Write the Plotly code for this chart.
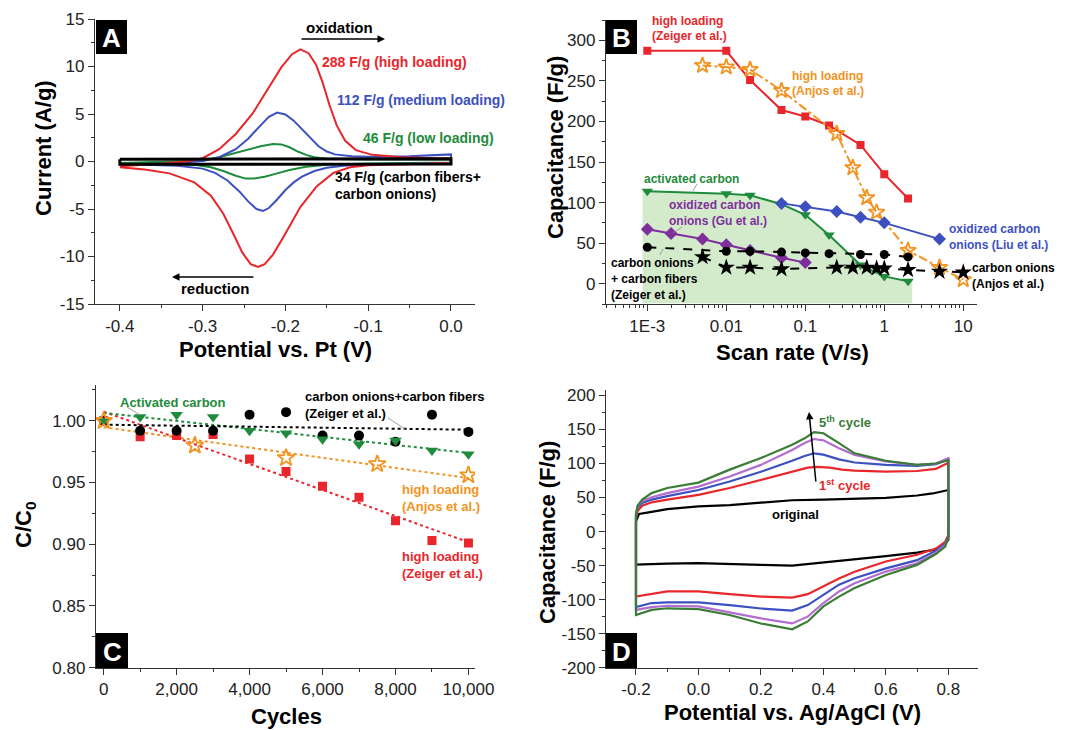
import plotly.graph_objects as go
import numpy as np

# The page body adds an 8 px margin, so the figure is drawn 8 px smaller and
# every reference pixel position is shifted by that offset.
OFF = 8
W, H = 1072 - OFF, 730 - OFF
def fx(p): return (p - OFF) / W
def fy(p): return 1 - (p - OFF) / H

FONT = "Arial, Liberation Sans, Helvetica, sans-serif"
RED = "#e8262b"; BLUE = "#3d50c0"; GREEN = "#1e8c3c"; ORANGE = "#f39321"
PURPLE = "#7e2f9c"; PURPLE_D = "#b46ccf"; BLACK = "#000000"; FILLG = "#d3ebcb"; GREEN_D = "#3a7d35"

# ---------------- Panel A data (CV, Potential vs Pt) ----------------
a_red_up_x = [-0.40, -0.36, -0.32, -0.30, -0.28, -0.26, -0.24, -0.22, -0.205, -0.192, -0.182, -0.172, -0.163, -0.155, -0.147, -0.138, -0.128, -0.115, -0.095, -0.06, -0.03, 0.0]
a_red_up_y = [-0.5, -0.3, 0.0, 0.35, 1.3, 2.9, 5.0, 7.8, 9.9, 11.3, 11.8, 11.4, 10.2, 8.3, 6.0, 3.8, 2.2, 1.2, 0.7, 0.45, 0.35, 0.3]
a_red_dn_x = [0.0, -0.05, -0.1, -0.122, -0.142, -0.162, -0.182, -0.202, -0.215, -0.225, -0.233, -0.242, -0.252, -0.263, -0.275, -0.29, -0.31, -0.34, -0.37, -0.40]
a_red_dn_y = [-0.15, -0.25, -0.4, -0.6, -1.2, -2.6, -4.8, -7.9, -9.8, -10.8, -11.1, -10.8, -9.6, -7.6, -5.5, -3.6, -2.2, -1.25, -0.85, -0.6]

a_blue_up_x = [-0.40, -0.33, -0.30, -0.28, -0.26, -0.245, -0.23, -0.22, -0.21, -0.2, -0.19, -0.18, -0.17, -0.16, -0.15, -0.14, -0.12, -0.1, -0.05, 0.0]
a_blue_up_y = [-0.35, -0.15, 0.05, 0.45, 1.3, 2.4, 3.8, 4.7, 5.15, 4.95, 4.3, 3.4, 2.4, 1.6, 1.05, 0.75, 0.55, 0.5, 0.55, 0.75]
a_blue_dn_x = [0.0, -0.05, -0.1, -0.13, -0.15, -0.165, -0.18, -0.19, -0.2, -0.21, -0.22, -0.227, -0.235, -0.245, -0.255, -0.27, -0.285, -0.3, -0.33, -0.37, -0.40]
a_blue_dn_y = [-0.15, -0.2, -0.3, -0.45, -0.65, -1.0, -1.6, -2.2, -3.0, -4.0, -4.9, -5.2, -5.0, -4.2, -3.2, -2.0, -1.2, -0.75, -0.45, -0.35, -0.35]

a_green_up_x = [-0.4, -0.3, -0.28, -0.26, -0.245, -0.23, -0.215, -0.205, -0.195, -0.185, -0.175, -0.165, -0.15, -0.1, 0.0]
a_green_up_y = [-0.15, 0.1, 0.45, 0.9, 1.25, 1.6, 1.85, 1.8, 1.5, 1.05, 0.7, 0.45, 0.3, 0.2, 0.2]
a_green_dn_x = [0.0, -0.1, -0.15, -0.175, -0.195, -0.21, -0.225, -0.238, -0.248, -0.26, -0.275, -0.29, -0.31, -0.35, -0.4]
a_green_dn_y = [-0.1, -0.2, -0.35, -0.55, -0.9, -1.25, -1.6, -1.8, -1.8, -1.5, -1.0, -0.6, -0.35, -0.2, -0.15]

a_black_x = [-0.4, 0.0, 0.0, -0.4, -0.4]
a_black_y = [0.25, 0.3, -0.25, -0.3, 0.25]

a_xticks = [-0.4, -0.3, -0.2, -0.1, 0.0]
a_xticktext = ["-0.4", "-0.3", "-0.2", "-0.1", "0.0"]
a_yticks = [-15, -10, -5, 0, 5, 10, 15]
a_yticktext = ["-15", "-10", "-5", "0", "5", "10", "15"]

# ---------------- Panel B data (Capacitance vs scan rate) ----------------
b_red_x = [0.001, 0.01, 0.02, 0.05, 0.1, 0.2, 0.5, 1, 2]
b_red_y = [287, 287, 251, 214, 206, 195, 171, 135, 105]
b_orange_x = [0.005, 0.01, 0.02, 0.05, 0.25, 0.4, 0.6, 0.8, 2, 5, 10]
b_orange_y = [269, 267, 264, 238, 185, 143, 106, 88, 41, 20, 5]
b_green_x = [0.001, 0.01, 0.02, 0.05, 0.1, 0.2, 0.5, 1, 2]
b_green_y = [114, 111, 109, 98, 85, 60, 23, 9, 3]
b_blue_x = [0.05, 0.1, 0.25, 0.5, 1, 5]
b_blue_y = [99, 95, 89, 82, 75, 55]
b_purple_x = [0.001, 0.002, 0.005, 0.01, 0.02, 0.05, 0.1]
b_purple_y = [67, 62, 55, 48, 41, 32, 26]
b_circ_x = [0.001, 0.01, 0.02, 0.05, 0.1, 0.2, 0.5, 1, 2]
b_circ_y = [45, 40, 40, 39, 38, 37, 36, 36, 33]
b_star_x = [0.005, 0.01, 0.02, 0.05, 0.25, 0.4, 0.6, 0.8, 1, 2, 5, 10]
b_star_y = [33, 20, 20, 18, 20, 20, 20, 19, 19, 17, 15, 14]

b_xticks = [0.001, 0.01, 0.1, 1, 10]
b_xticktext = ["1E-3", "0.01", "0.1", "1", "10"]
b_yticks = [0, 50, 100, 150, 200, 250, 300]
b_yticktext = ["0", "50", "100", "150", "200", "250", "300"]

# ---------------- Panel C data (cycling stability) ----------------
c_cycles = [0, 1000, 2000, 3000, 4000, 5000, 6000, 7000, 8000, 9000, 10000]
c_black_y = [1.0, 0.992, 0.992, 0.992, 1.005, 1.007, 0.988, 0.988, 0.983, 1.005, 0.991]
c_green_y = [1.0, 1.003, 1.005, 1.003, 0.992, 0.990, 0.985, 0.981, 0.984, 0.976, 0.973]
c_red_y = [1.0, 0.987, 0.988, 0.989, 0.969, 0.959, 0.947, 0.938, 0.919, 0.903, 0.901]
c_orange_x = [0, 2500, 5000, 7500, 10000]
c_orange_y = [1.0, 0.980, 0.970, 0.965, 0.956]

c_xticks = [0, 2000, 4000, 6000, 8000, 10000]
c_xticktext = ["0", "2,000", "4,000", "6,000", "8,000", "10,000"]
c_yticks = [0.80, 0.85, 0.90, 0.95, 1.00]
c_yticktext = ["0.80", "0.85", "0.90", "0.95", "1.00"]

# ---------------- Panel D data (CV vs Ag/AgCl) ----------------
d_up_x = [-0.2, -0.195, -0.18, -0.15, -0.1, 0.0, 0.1, 0.2, 0.3, 0.34, 0.37, 0.4, 0.45, 0.5, 0.6, 0.7, 0.76, 0.8]
d_dn_x = [0.8, 0.79, 0.76, 0.7, 0.6, 0.5, 0.45, 0.4, 0.35, 0.3, 0.2, 0.1, 0.0, -0.1, -0.15, -0.2, -0.2]
d_blue_up = [25, 35, 42, 47, 52, 61, 73.5, 88, 104, 111, 115, 113, 106, 101.5, 98, 96.5, 99, 106]
d_blue_dn = [-8, -18, -28, -42, -54, -68.6, -78, -93, -108, -116, -113, -108, -104, -104, -105, -111, 25]
d_purple_up = [25, 37, 45, 50.5, 56.5, 66, 81, 98, 120, 130, 136, 134, 122.5, 112.7, 103, 98, 100, 108]
d_purple_dn = [-8, -20, -31, -46.6, -58.8, -76, -88, -105, -125, -135, -127.5, -119, -110, -109, -111, -115, 25]
d_green_up = [25, 38, 47, 56.5, 64, 72, 91, 108, 127.5, 137, 146, 144.5, 130, 115, 104, 98, 100, 105]
d_green_dn = [-8, -22, -33, -49, -63.7, -83, -95.6, -110, -132, -143.6, -135, -122.5, -114, -112.7, -115, -122.5, 25]
d_red_up_x = [-0.2, -0.195, -0.18, -0.15, -0.1, 0.0, 0.1, 0.2, 0.3, 0.35, 0.38, 0.42, 0.46, 0.5, 0.6, 0.7, 0.76, 0.8]
d_red_up = [20, 30, 38, 43, 47, 54, 64, 76, 88, 94, 95, 94, 91, 89.5, 88, 89, 92, 101]
d_red_dn_x = [0.8, 0.79, 0.76, 0.7, 0.6, 0.5, 0.45, 0.4, 0.35, 0.3, 0.2, 0.1, 0.0, -0.1, -0.2, -0.2]
d_red_dn = [-5, -15, -25, -34, -44, -59, -69, -80, -92, -97, -95.5, -92, -88, -88, -95.5, 20]
d_blk_up_x = [-0.2, -0.19, -0.15, -0.1, 0.0, 0.1, 0.2, 0.3, 0.4, 0.5, 0.6, 0.7, 0.75, 0.8]
d_blk_up = [15, 26, 29, 33, 37, 39, 42.5, 46, 47, 48, 49.5, 53, 56, 61]
d_blk_dn_x = [0.8, 0.78, 0.7, 0.6, 0.5, 0.4, 0.3, 0.2, 0.1, 0.0, -0.1, -0.2, -0.2]
d_blk_dn = [-12, -25, -31, -36, -41, -45, -50, -49, -47.5, -46.5, -47, -48.5, 15]

d_xticks = [-0.2, 0.0, 0.2, 0.4, 0.6, 0.8]
d_xticktext = ["-0.2", "0.0", "0.2", "0.4", "0.6", "0.8"]
d_yticks = [-200, -150, -100, -50, 0, 50, 100, 150, 200]
d_yticktext = ["-200", "-150", "-100", "-50", "0", "50", "100", "150", "200"]

fig = go.Figure()

def line(x, y, color, ax, width=2, dash="solid", mode="lines", marker=None):
    fig.add_trace(go.Scatter(x=x, y=y, mode=mode, line=dict(color=color, width=width, dash=dash),
                             marker=marker, xaxis=ax[0], yaxis=ax[1], showlegend=False, hoverinfo="skip"))

# Panel A
A = ("x", "y")
line(a_green_up_x + a_green_dn_x, a_green_up_y + a_green_dn_y, GREEN, A)
line(a_blue_up_x + a_blue_dn_x, a_blue_up_y + a_blue_dn_y, BLUE, A)
line(a_red_up_x + a_red_dn_x, a_red_up_y + a_red_dn_y, RED, A)
line(a_black_x, a_black_y, BLACK, A, width=3)

# Panel B
B = ("x2", "y2")
gx = [b_green_x[0] * 0.87] + b_green_x + [b_green_x[-1] * 1.13]
gy = [b_green_y[0]] + b_green_y + [b_green_y[-1]]
fig.add_trace(go.Scatter(x=gx + gx[::-1], y=gy + [-24] * len(gx), fill="toself", fillcolor=FILLG,
                         line=dict(width=0), mode="lines", xaxis="x2", yaxis="y2",
                         showlegend=False, hoverinfo="skip"))
line(b_green_x, b_green_y, GREEN, B, mode="lines+markers",
     marker=dict(symbol="triangle-down", size=10, color=GREEN))
line(b_red_x, b_red_y, RED, B, mode="lines+markers", marker=dict(symbol="square", size=8, color=RED))
line(b_orange_x, b_orange_y, ORANGE, B, dash="dashdot", mode="lines+markers",
     marker=dict(symbol="star-open", size=12, color=ORANGE, line=dict(width=1.8, color=ORANGE)))
line(b_blue_x, b_blue_y, BLUE, B, mode="lines+markers", marker=dict(symbol="diamond", size=10, color=BLUE))
line(b_purple_x, b_purple_y, PURPLE, B, mode="lines+markers", marker=dict(symbol="diamond", size=10, color=PURPLE))
line(b_circ_x, b_circ_y, BLACK, B, dash="dash", mode="lines+markers", marker=dict(symbol="circle", size=9, color=BLACK))
line(b_star_x, b_star_y, BLACK, B, dash="dash", mode="lines+markers", marker=dict(symbol="star", size=13, color=BLACK))

# Panel C
C = ("x3", "y3")
def fit_line(x, y, color):
    p = np.polyfit(np.array(x, float), np.array(y, float), 1)
    xs = np.array([min(x), max(x)], float)
    line(list(xs), list(np.polyval(p, xs)), color, C, width=2, dash="dot")
fit_line(c_cycles, c_red_y, RED)
fit_line(c_orange_x, c_orange_y, ORANGE)
fit_line(c_cycles, c_green_y, GREEN)
fit_line(c_cycles, c_black_y, BLACK)
line(c_cycles, c_red_y, RED, C, mode="markers", marker=dict(symbol="square", size=9, color=RED))
line(c_cycles, c_black_y, BLACK, C, mode="markers", marker=dict(symbol="circle", size=10, color=BLACK))
line(c_cycles, c_green_y, GREEN, C, mode="markers", marker=dict(symbol="triangle-down", size=11, color=GREEN))
line(c_orange_x, c_orange_y, ORANGE, C, mode="markers",
     marker=dict(symbol="star-open", size=13, color=ORANGE, line=dict(width=1.8, color=ORANGE)))

# Panel D
D = ("x4", "y4")
line(d_blk_up_x + d_blk_dn_x, d_blk_up + d_blk_dn, BLACK, D, width=2.2)
line(d_red_up_x + d_red_dn_x, d_red_up + d_red_dn, RED, D, width=2.2)
line(d_up_x + d_dn_x, d_blue_up + d_blue_dn, BLUE, D, width=2.2)
line(d_up_x + d_dn_x, d_purple_up + d_purple_dn, PURPLE_D, D, width=2.2)
line(d_up_x + d_dn_x, d_green_up + d_green_dn, GREEN_D, D, width=2.2)

# ---------------- Axes ----------------
TICKF = dict(family=FONT, size=17, color="#222")
def axis(domain, rng, tickvals, ticktext, minor_dtick=None, typ="linear", minor_vals=None, anchor=None):
    d = dict(domain=domain, range=rng, type=typ, tickmode="array", tickvals=tickvals, ticktext=ticktext,
             ticks="outside", ticklen=6, tickwidth=1.3, tickcolor="#333", showline=True, linecolor="#333",
             linewidth=1.3, showgrid=False, zeroline=False, tickfont=TICKF, anchor=anchor, mirror=False,
             automargin=False)
    if minor_vals is not None:
        d["minor"] = dict(tickmode="array", tickvals=minor_vals, ticks="outside", ticklen=3, tickwidth=1.1,
                          tickcolor="#333", showgrid=False)
    elif minor_dtick is not None:
        d["minor"] = dict(dtick=minor_dtick, ticks="outside", ticklen=3, tickwidth=1.1, tickcolor="#333",
                          showgrid=False)
    return d

log_minor = [k * 10.0 ** e for e in range(-4, 2) for k in range(2, 10)]

fig.update_layout(
    template="none",
    width=W, height=H, margin=dict(l=0, r=0, t=0, b=0, pad=0, autoexpand=False),
    plot_bgcolor="white", paper_bgcolor="white",
    font=dict(family=FONT),
    xaxis=axis([fx(95), fx(475)], [-0.43, 0.029], a_xticks, a_xticktext, 0.05, anchor="y"),
    yaxis=axis([fy(304), fy(19)], [-15, 15], a_yticks, a_yticktext, 2.5, anchor="x"),
    xaxis2=axis([fx(606), fx(976.7)], [-3.523, 1.17], b_xticks, b_xticktext, typ="log", minor_vals=log_minor, anchor="y2"),
    yaxis2=axis([fy(304), fy(20)], [-25, 325], b_yticks, b_yticktext, 25, anchor="x2"),
    xaxis3=axis([fx(96), fx(475)], [-210, 10180], c_xticks, c_xticktext, 1000, anchor="y3"),
    yaxis3=axis([fy(667.7), fy(385)], [0.8, 1.029], c_yticks, c_yticktext, 0.025, anchor="x3"),
    xaxis4=axis([fx(606), fx(978.3)], [-0.296, 0.896], d_xticks, d_xticktext, 0.1, anchor="y4"),
    yaxis4=axis([fy(667.7), fy(390)], [-200, 208], d_yticks, d_yticktext, 25, anchor="x4"),
)

ann = []
def txt(x, y, s, color=BLACK, size=13, xanchor="center", angle=0, bold=True):
    ann.append(dict(x=fx(x), y=fy(y), xref="paper", yref="paper", text=(f"<b>{s}</b>" if bold else s),
                    showarrow=False, xanchor=xanchor, yanchor="middle", textangle=angle,
                    font=dict(family=FONT, size=size, color=color)))
def arrow(x0, y0, x1, y1):
    ann.append(dict(x=fx(x1), y=fy(y1), xref="paper", yref="paper", ax=x0 - x1, ay=y0 - y1,
                    axref="pixel", ayref="pixel", text="", showarrow=True, arrowhead=2, arrowsize=1,
                    arrowwidth=1.5, arrowcolor=BLACK))

# Axis titles
txt(43, 148, "Current (A/g)", size=22, angle=-90)
txt(275, 350, "Potential vs. Pt (V)", size=22)
txt(555, 148, "Capacitance (F/g)", size=22, angle=-90)
txt(792, 352, "Scan rate (V/s)", size=22)
txt(25, 525, "C/C<sub>0</sub>", size=22, angle=-90)
txt(286, 716, "Cycles", size=22)
txt(792, 712, "Potential vs. Ag/AgCl (V)", size=22)
txt(547, 533, "Capacitance (F/g)", size=22, angle=-90)

# Panel A annotations
txt(339, 28, "oxidation", size=15)
arrow(300, 39, 385, 39)
txt(215, 289, "reduction", size=15)
arrow(255, 277, 172, 277)
txt(320, 62, "288 F/g (high loading)", RED, 14, "left")
txt(335, 100, "112 F/g (medium loading)", BLUE, 14, "left")
txt(361, 138, "46 F/g (low loading)", GREEN, 14, "left")
txt(333, 177, "34 F/g (carbon fibers+", BLACK, 14, "left")
txt(333, 194, "carbon onions)", BLACK, 14, "left")

# Panel B annotations
txt(650, 21, "high loading", RED, 12, "left")
txt(650, 36, "(Zeiger et al.)", RED, 12, "left")
txt(790, 76, "high loading", ORANGE, 12, "left")
txt(790, 91, "(Anjos et al.)", ORANGE, 12, "left")
txt(642, 179, "activated carbon", GREEN, 12, "left")
txt(667, 205, "oxidized carbon", PURPLE, 12, "left")
txt(667, 221, "onions (Gu et al.)", PURPLE, 12, "left")
txt(609, 263, "carbon onions", BLACK, 12, "left")
txt(609, 279, "+ carbon fibers", BLACK, 12, "left")
txt(609, 295, "(Zeiger et al.)", BLACK, 12, "left")
txt(947, 229, "oxidized carbon", BLUE, 12, "left")
txt(947, 245, "onions (Liu et al.)", BLUE, 12, "left")
txt(970, 268, "carbon onions", BLACK, 12, "left")
txt(970, 284, "(Anjos et al.)", BLACK, 12, "left")

# Panel C annotations
txt(118, 402, "Activated carbon", GREEN, 13, "left")
txt(303, 396, "carbon onions+carbon fibers", BLACK, 13, "left")
txt(303, 413, "(Zeiger et al.)", BLACK, 13, "left")
txt(400, 489, "high loading", ORANGE, 13, "left")
txt(400, 507, "(Anjos et al.)", ORANGE, 13, "left")
txt(400, 556, "high loading", RED, 13, "left")
txt(400, 573, "(Zeiger et al.)", RED, 13, "left")

# Panel D annotations
arrow(816, 483, 809, 412)
txt(817, 422, "5<sup>th</sup> cycle", GREEN_D, 13, "left")
txt(817, 485, "1<sup>st</sup> cycle", RED, 13, "left")
txt(795, 515, "original", BLACK, 13)

shapes = []
# thin label pointer lines
for (x0, y0, x1, y1) in [(697, 184, 693, 191), (682, 227, 673, 233), (663, 249, 660, 255),
                         (127, 407, 140, 415), (388, 418, 405, 429)]:
    shapes.append(dict(type="line", xref="paper", yref="paper", x0=fx(x0), y0=fy(y0), x1=fx(x1), y1=fy(y1),
                       line=dict(color="#888", width=0.8)))

# Panel letters
for (x0, y0, x1, y1, letter) in [(96, 20, 127, 54, "A"), (606, 20, 637, 54, "B"),
                                  (96, 633, 128, 668, "C"), (606, 633, 637, 668, "D")]:
    shapes.append(dict(type="rect", xref="paper", yref="paper", x0=fx(x0), x1=fx(x1), y0=fy(y1), y1=fy(y0),
                       fillcolor="black", line=dict(width=0)))
    txt((x0 + x1) / 2, (y0 + y1) / 2 + 1, letter, "white", 26)

fig.update_layout(annotations=ann, shapes=shapes)
fig.write_html("out.html")
